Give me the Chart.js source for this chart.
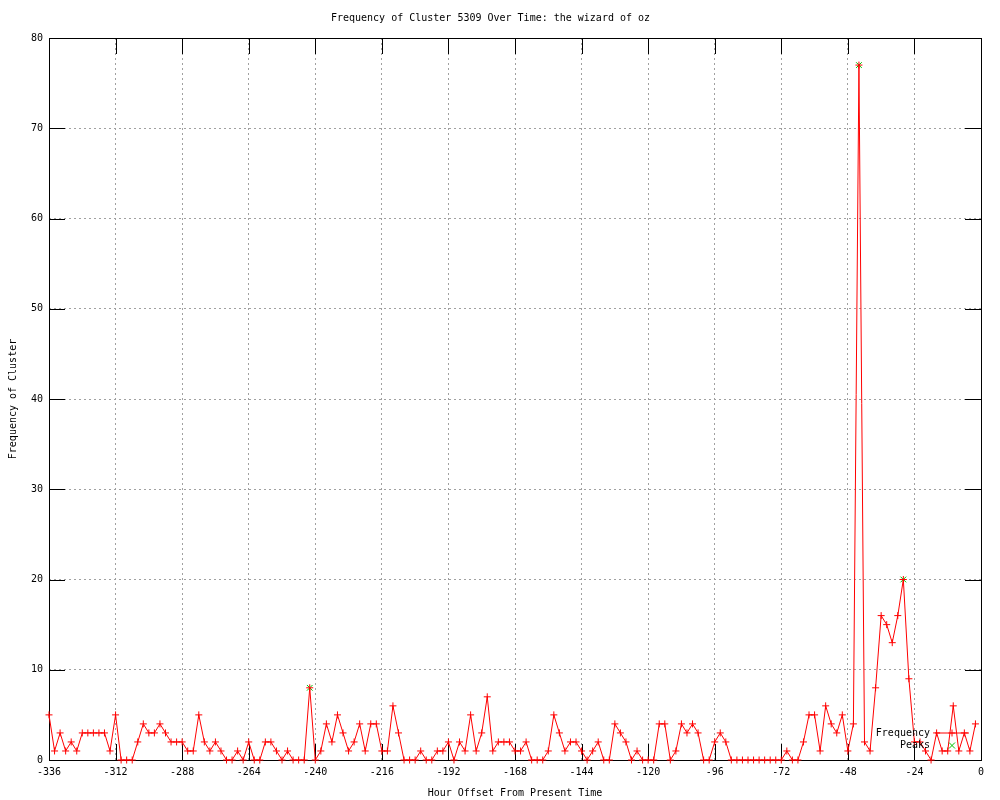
<!DOCTYPE html>
<html>
<head>
<meta charset="utf-8">
<title>Frequency of Cluster 5309 Over Time</title>
<script src="https://cdn.jsdelivr.net/npm/chart.js@4.4.1/dist/chart.umd.min.js"></script>
<style>
  html, body { margin: 0; padding: 0; background: #fff; }
  #wrap { width: 1000px; height: 800px; }
</style>
</head>
<body>
<div id="wrap"><canvas id="clusterChart" width="1000" height="800"></canvas></div>
<script>
// sample times, hours before now (one every 2 hours)
const hours = [
  -336,-334,-332,-330,-328,-326,-324,-322,-320,-318,-316,-314,
  -312,-310,-308,-306,-304,-302,-300,-298,-296,-294,-292,-290,
  -288,-286,-284,-282,-280,-278,-276,-274,-272,-270,-268,-266,
  -264,-262,-260,-258,-256,-254,-252,-250,-248,-246,-244,-242,
  -240,-238,-236,-234,-232,-230,-228,-226,-224,-222,-220,-218,
  -216,-214,-212,-210,-208,-206,-204,-202,-200,-198,-196,-194,
  -192,-190,-188,-186,-184,-182,-180,-178,-176,-174,-172,-170,
  -168,-166,-164,-162,-160,-158,-156,-154,-152,-150,-148,-146,
  -144,-142,-140,-138,-136,-134,-132,-130,-128,-126,-124,-122,
  -120,-118,-116,-114,-112,-110,-108,-106,-104,-102,-100,-98,
  -96,-94,-92,-90,-88,-86,-84,-82,-80,-78,-76,-74,
  -72,-70,-68,-66,-64,-62,-60,-58,-56,-54,-52,-50,
  -48,-46,-44,-42,-40,-38,-36,-34,-32,-30,-28,-26,
  -24,-22,-20,-18,-16,-14,-12,-10,-8,-6,-4,-2
];

// cluster frequency at each of those hours
const frequency = [
  5,1,3,1,2,1,3,3,3,3,3,1,
  5,0,0,0,2,4,3,3,4,3,2,2,
  2,1,1,5,2,1,2,1,0,0,1,0,
  2,0,0,2,2,1,0,1,0,0,0,8,
  0,1,4,2,5,3,1,2,4,1,4,4,
  1,1,6,3,0,0,0,1,0,0,1,1,
  2,0,2,1,5,1,3,7,1,2,2,2,
  1,1,2,0,0,0,1,5,3,1,2,2,
  1,0,1,2,0,0,4,3,2,0,1,0,
  0,0,4,4,0,1,4,3,4,3,0,0,
  2,3,2,0,0,0,0,0,0,0,0,0,
  0,1,0,0,2,5,5,1,6,4,3,5,
  1,4,77,2,1,8,16,15,13,16,20,9,
  2,2,1,0,3,1,1,6,1,3,1,4
];

const peakHours = [-242, -44, -28];
const peakValues = [8, 77, 20];

const xTickStep = 24;
const yTickStep = 10;

const TICK_LEN = 16;
const MONO = "'DejaVu Sans Mono', monospace";

Chart.defaults.font.family = MONO;
Chart.defaults.font.size = 10;
Chart.defaults.color = '#000';

// gnuplot style border with inward ticks on all four sides
const gnuplotFrame = {
  id: 'gnuplotFrame',
  beforeDatasetsDraw(chart) {
    const { ctx, chartArea: a, scales: { x, y } } = chart;
    ctx.save();
    ctx.strokeStyle = '#000';
    ctx.lineWidth = 1;
    ctx.beginPath();
    x.ticks.forEach(t => {
      const px = Math.round(x.getPixelForValue(t.value)) + 0.5;
      ctx.moveTo(px, a.bottom); ctx.lineTo(px, a.bottom - TICK_LEN);
      ctx.moveTo(px, a.top); ctx.lineTo(px, a.top + TICK_LEN);
    });
    y.ticks.forEach(t => {
      const py = Math.round(y.getPixelForValue(t.value)) + 0.5;
      ctx.moveTo(a.left, py); ctx.lineTo(a.left + TICK_LEN, py);
      ctx.moveTo(a.right, py); ctx.lineTo(a.right - TICK_LEN, py);
    });
    ctx.stroke();
    ctx.strokeRect(a.left + 0.5, a.top + 0.5, a.right - a.left, a.bottom - a.top);
    ctx.restore();
  }
};

function drawPlus(ctx, cx, cy, r) {
  ctx.moveTo(cx - r, cy); ctx.lineTo(cx + r, cy);
  ctx.moveTo(cx, cy - r); ctx.lineTo(cx, cy + r);
}
function drawX(ctx, cx, cy, r) {
  ctx.moveTo(cx - r, cy - r); ctx.lineTo(cx + r, cy + r);
  ctx.moveTo(cx - r, cy + r); ctx.lineTo(cx + r, cy - r);
}

// key in the bottom right corner, text then sample
const gnuplotKey = {
  id: 'gnuplotKey',
  afterDatasetsDraw(chart) {
    const { ctx, chartArea: a } = chart;
    const ds = chart.data.datasets;
    const textRight = a.right - 51;
    const mid = a.right - 29;
    const rows = [a.bottom - 27, a.bottom - 14.5];
    ctx.save();
    ctx.font = '10px ' + MONO;
    ctx.textAlign = 'right';
    ctx.textBaseline = 'middle';
    ctx.fillStyle = '#000';
    ctx.fillText(ds[0].label, textRight, rows[0]);
    ctx.fillText(ds[1].label, textRight, rows[1]);

    ctx.lineWidth = 1;
    ctx.strokeStyle = ds[0].borderColor;
    ctx.beginPath();
    ctx.moveTo(a.right - 46, rows[0]); ctx.lineTo(a.right - 12, rows[0]);
    drawPlus(ctx, mid, rows[0], 3.5);
    ctx.stroke();

    ctx.strokeStyle = ds[1].pointBorderColor;
    ctx.beginPath();
    drawX(ctx, mid, rows[1], 3);
    ctx.stroke();
    ctx.restore();
  }
};

const freqPoints = hours.map((h, i) => ({ x: h, y: frequency[i] }));
const peakPoints = peakHours.map((h, i) => ({ x: h, y: peakValues[i] }));

new Chart(document.getElementById('clusterChart'), {
  type: 'line',
  data: {
    datasets: [
      {
        label: 'Frequency',
        data: freqPoints,
        borderColor: '#ff0000',
        borderWidth: 1,
        tension: 0,
        pointStyle: 'cross',
        pointRadius: 3.5,
        pointBorderColor: '#ff0000',
        pointBorderWidth: 1,
        clip: false
      },
      {
        label: 'Peaks',
        data: peakPoints,
        showLine: false,
        pointStyle: 'crossRot',
        pointRadius: 4,
        pointBorderColor: '#00c000',
        pointBackgroundColor: '#00c000',
        pointBorderWidth: 1,
        clip: false
      }
    ]
  },
  options: {
    responsive: false,
    animation: false,
    events: [],
    layout: { padding: { left: 0, right: 19, top: 0, bottom: 0 } },
    plugins: {
      legend: { display: false },
      tooltip: { enabled: false },
      title: {
        display: true,
        text: 'Frequency of Cluster 5309 Over Time: the wizard of oz',
        font: { family: MONO, size: 10, weight: 'normal' },
        color: '#000',
        padding: { top: 12, bottom: 14 }
      }
    },
    scales: {
      x: {
        type: 'linear',
        min: -336,
        max: 0,
        afterFit(s) { s.height = 40; },
        ticks: {
          stepSize: xTickStep,
          autoSkip: false,
          maxRotation: 0,
          padding: 6,
          color: '#000',
          callback: v => String(v)
        },
        grid: { color: '#a0a0a0', lineWidth: 1, drawTicks: false },
        border: { display: false, dash: [2, 3] },
        title: {
          display: true,
          text: 'Hour Offset From Present Time',
          color: '#000',
          padding: { top: 1, bottom: 1 }
        }
      },
      y: {
        min: 0,
        max: 80,
        afterFit(s) { s.width = 49; },
        ticks: {
          stepSize: yTickStep,
          padding: 6,
          color: '#000',
          callback: v => String(v)
        },
        grid: { color: '#a0a0a0', lineWidth: 1, drawTicks: false },
        border: { display: false, dash: [2, 3] },
        title: {
          display: true,
          text: 'Frequency of Cluster',
          color: '#000',
          padding: { top: 7, bottom: 0 }
        }
      }
    }
  },
  plugins: [gnuplotFrame, gnuplotKey]
});
</script>
</body>
</html>
